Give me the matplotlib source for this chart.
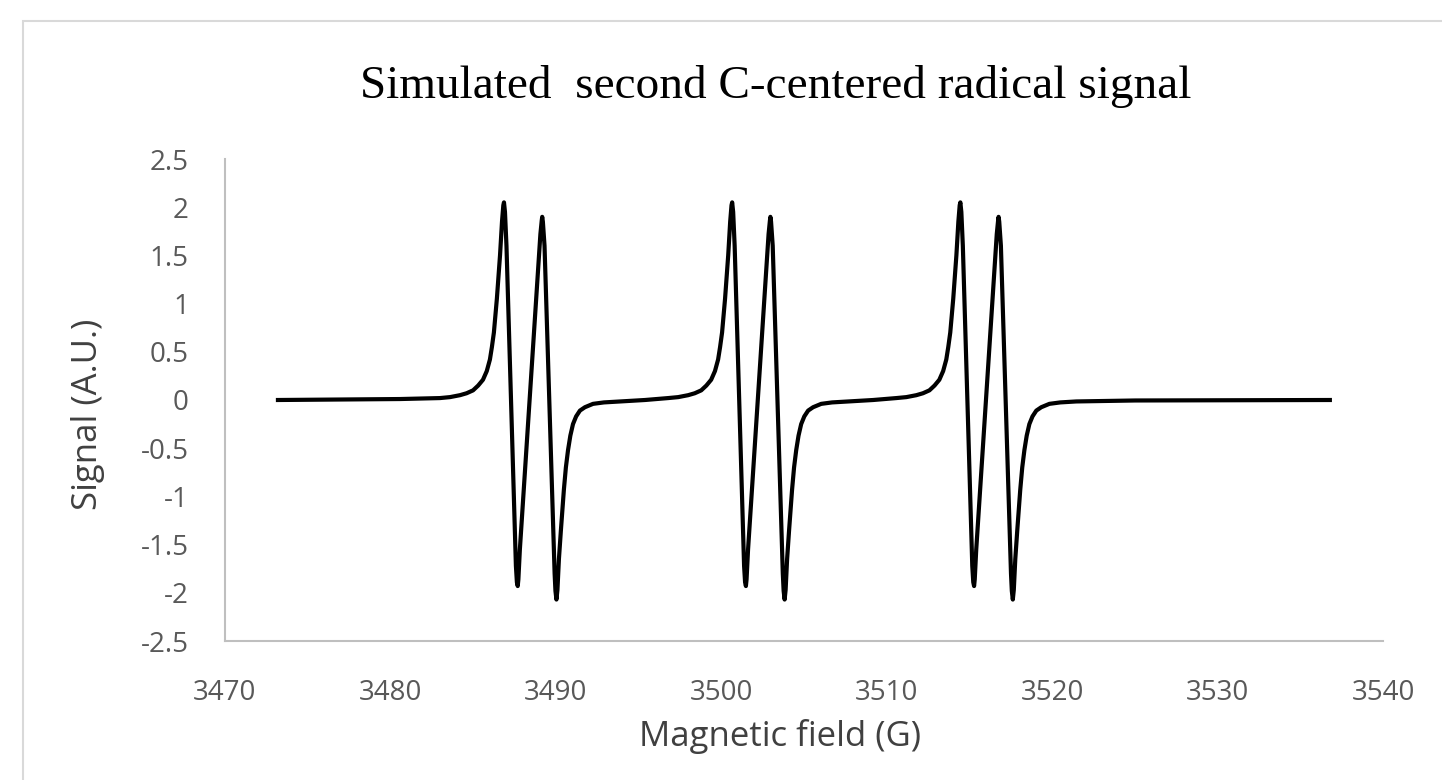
import matplotlib
matplotlib.use("Agg")
import matplotlib.pyplot as plt
from matplotlib.patches import Rectangle

# ── DATA ────────────────────────────────────────────
# magnetic field (G) and signal (A.U.), one list pair per line group
field_g1  = [3473.20, 3480.57, 3482.99, 3483.60, 3484.20, 3484.60, 3484.99, 3485.30,
             3485.59, 3485.82, 3486.01, 3486.13, 3486.25, 3486.43, 3486.62, 3486.74,
             3486.82, 3486.86, 3486.92, 3487.01, 3487.58, 3487.64, 3487.69, 3487.73,
             3487.82, 3489.06, 3489.14, 3489.17, 3489.21, 3489.31, 3489.92, 3489.97,
             3490.03, 3490.09, 3490.18, 3490.30, 3490.48, 3490.60, 3490.73, 3490.87,
             3491.03, 3491.22, 3491.45, 3491.75, 3492.24, 3492.90, 3493.87, 3495.38]
signal_g1 = [0.00, 0.01, 0.02, 0.03, 0.05, 0.07, 0.10, 0.15,
             0.21, 0.30, 0.42, 0.55, 0.70, 1.05, 1.50, 1.85,
             2.02, 2.05, 1.95, 1.60, -1.72, -1.89, -1.93, -1.86,
             -1.55, 1.72, 1.86, 1.90, 1.85, 1.60, -1.80, -1.98,
             -2.07, -1.97, -1.65, -1.35, -0.93, -0.70, -0.52, -0.37,
             -0.25, -0.17, -0.11, -0.075, -0.04, -0.025, -0.015, 0.00]

field_g2  = [3496.78, 3497.39, 3497.99, 3498.39, 3498.78, 3499.09, 3499.38, 3499.61,
             3499.80, 3499.92, 3500.04, 3500.22, 3500.41, 3500.53, 3500.61, 3500.65,
             3500.71, 3500.80, 3501.37, 3501.43, 3501.48, 3501.52, 3501.61, 3502.85,
             3502.93, 3502.96, 3503.00, 3503.10, 3503.71, 3503.76, 3503.82, 3503.88,
             3503.97, 3504.09, 3504.27, 3504.39, 3504.52, 3504.66, 3504.82, 3505.01,
             3505.24, 3505.54, 3506.03, 3506.69, 3507.66, 3509.17]
signal_g2 = [0.02, 0.03, 0.05, 0.07, 0.10, 0.15, 0.21, 0.30,
             0.42, 0.55, 0.70, 1.05, 1.50, 1.85, 2.02, 2.05,
             1.95, 1.60, -1.72, -1.89, -1.93, -1.86, -1.55, 1.72,
             1.86, 1.90, 1.85, 1.60, -1.80, -1.98, -2.07, -1.97,
             -1.65, -1.35, -0.93, -0.70, -0.52, -0.37, -0.25, -0.17,
             -0.11, -0.075, -0.04, -0.025, -0.015, 0.00]

field_g3  = [3510.57, 3511.18, 3511.78, 3512.18, 3512.57, 3512.88, 3513.17, 3513.40,
             3513.59, 3513.71, 3513.83, 3514.01, 3514.20, 3514.32, 3514.40, 3514.44,
             3514.50, 3514.59, 3515.16, 3515.22, 3515.27, 3515.31, 3515.40, 3516.64,
             3516.72, 3516.75, 3516.79, 3516.89, 3517.50, 3517.55, 3517.61, 3517.67,
             3517.76, 3517.88, 3518.06, 3518.18, 3518.31, 3518.45, 3518.61, 3518.80,
             3519.03, 3519.33, 3519.82, 3520.48, 3521.45, 3525.00, 3536.77]
signal_g3 = [0.02, 0.03, 0.05, 0.07, 0.10, 0.15, 0.21, 0.30,
             0.42, 0.55, 0.70, 1.05, 1.50, 1.85, 2.02, 2.05,
             1.95, 1.60, -1.72, -1.89, -1.93, -1.86, -1.55, 1.72,
             1.86, 1.90, 1.85, 1.60, -1.80, -1.98, -2.07, -1.97,
             -1.65, -1.35, -0.93, -0.70, -0.52, -0.37, -0.25, -0.17,
             -0.11, -0.075, -0.04, -0.025, -0.015, -0.005, 0.00]

x_ticks = [3470, 3480, 3490, 3500, 3510, 3520, 3530, 3540]
y_ticks = [-2.5, -2, -1.5, -1, -0.5, 0, 0.5, 1, 1.5, 2, 2.5]
y_tick_labels = ["-2.5", "-2", "-1.5", "-1", "-0.5", "0", "0.5", "1", "1.5", "2", "2.5"]

field  = field_g1 + field_g2 + field_g3
signal = signal_g1 + signal_g2 + signal_g3

# ── FIGURE ──────────────────────────────────────────
W, H = 1442, 780
fig = plt.figure(figsize=(W / 100, H / 100), dpi=100)
fig.patch.set_facecolor("white")

# chart border (light grey frame, runs off the right/bottom)
fig.patches.append(Rectangle((23 / W, -0.1), 1.2, 1.1 - 21 / H, transform=fig.transFigure,
                             fill=False, edgecolor="#d9d9d9", linewidth=1.5))

ax = fig.add_axes([225 / W, 1 - 641 / H, (1383.3 - 225) / W, (641 - 159) / H])
ax.plot(field, signal, color="black", linewidth=3, solid_joinstyle="round")

ax.set_xlim(3470, 3540)
ax.set_ylim(-2.5, 2.5)
ax.set_xticks(x_ticks)
ax.set_xticklabels([str(t) for t in x_ticks])
ax.set_yticks(y_ticks)
ax.set_yticklabels(y_tick_labels)

for lbl in ax.get_xticklabels() + ax.get_yticklabels():
    lbl.set_fontfamily("Open Sans")
    lbl.set_fontsize(20)
    lbl.set_color("#595959")
ax.tick_params(axis="x", length=0, pad=27)
ax.tick_params(axis="y", length=0, pad=26)

for side in ["top", "right"]:
    ax.spines[side].set_visible(False)
for side in ["left", "bottom"]:
    ax.spines[side].set_color("#bfbfbf")
    ax.spines[side].set_linewidth(1.5)

# ── TEXT ────────────────────────────────────────────
fig.text(776 / W, 1 - 87 / H, "Simulated  second C-centered radical signal",
         ha="center", va="center", family="Liberation Serif", fontsize=34, color="black")
fig.text(780 / W, 1 - 736 / H, "Magnetic field (G)", ha="center", va="center",
         family="Open Sans", fontsize=25, color="#404040")
fig.text(88 / W, 1 - 414 / H, "Signal (A.U.)", ha="center", va="center", rotation=90,
         family="Open Sans", fontsize=25, color="#404040")

fig.savefig("out.png", dpi=100, facecolor="white")
